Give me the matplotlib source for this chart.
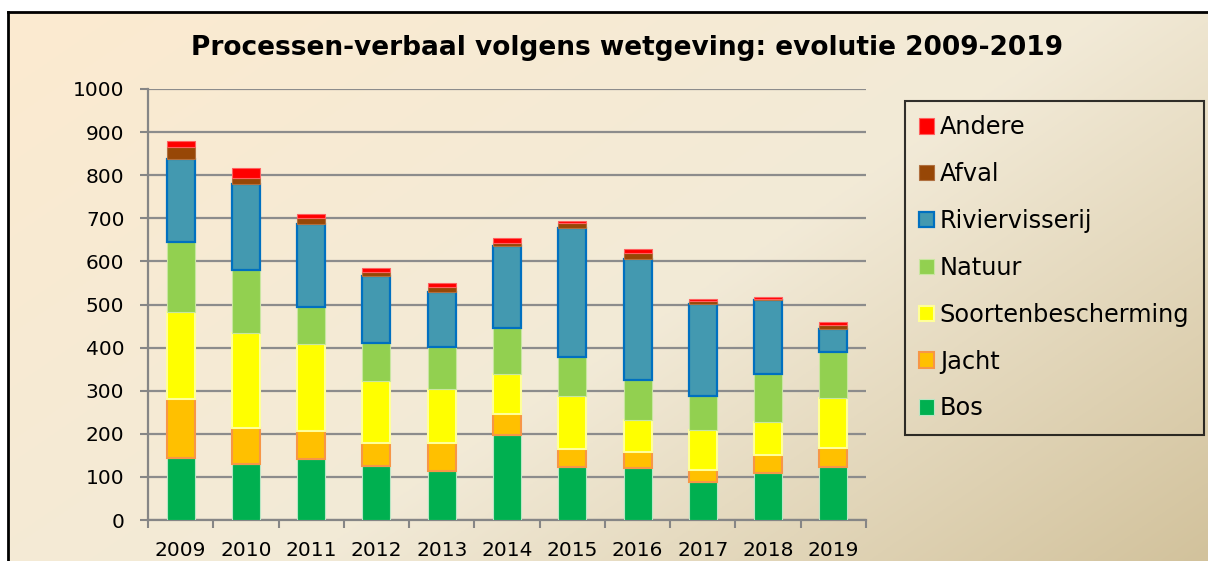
import matplotlib.pyplot as plt
import numpy as np
from matplotlib.colors import to_rgb

# data
years = ['2009', '2010', '2011', '2012', '2013', '2014', '2015', '2016', '2017', '2018', '2019']
bos = [144, 130, 141, 125, 114, 197, 124, 120, 88, 109, 124]
jacht = [137, 83, 66, 54, 65, 49, 41, 37, 27, 42, 44]
soorten = [202, 221, 201, 144, 124, 92, 123, 74, 94, 77, 116]
natuur = [162, 146, 86, 88, 99, 107, 91, 94, 79, 110, 105]
rivier = [192, 200, 193, 155, 127, 191, 298, 281, 214, 172, 54]
afval = [28, 14, 14, 9, 12, 7, 11, 13, 5, 2, 9]
andere = [14, 23, 9, 10, 9, 11, 6, 9, 6, 6, 8]

names = ['Bos', 'Jacht', 'Soortenbescherming', 'Natuur', 'Riviervisserij', 'Afval', 'Andere']
series = [bos, jacht, soorten, natuur, rivier, afval, andere]
colors = ['#00B050', '#FFC000', '#FFFF00', '#92D050', '#4399B0', '#974706', '#FF0000']
edges = ['#B8E6C4', '#F79646', '#FFFF99', '#C8E6A0', '#0070C0', '#B07040', '#FF6060']
edge_w = [0.8, 1.5, 1.5, 0.8, 1.6, 0.8, 0.8]

W, H = 1208, 561
fig = plt.figure(figsize=(W / 100, H / 100), dpi=100)
fig.patch.set_facecolor('white')

# gradient background of the chart area
bg = fig.add_axes([8 / W, 0, 1 - 8 / W, 1 - 12 / H], zorder=-5)
ny, nx = 200, 400
gx, gy = np.meshgrid(np.linspace(0, 1, nx), np.linspace(0, 1, ny))
t = (gx * 0.6 + gy * 0.4)
c0, c1, c2 = np.array(to_rgb('#FCEBD0')), np.array(to_rgb('#F2EAD7')), np.array(to_rgb('#D2C29C'))
t3 = t[..., None]
img = np.where(t3 < 0.55, c0 + (c1 - c0) * (t3 / 0.55), c1 + (c2 - c1) * ((t3 - 0.55) / 0.45))
bg.imshow(img, extent=[0, 1, 0, 1], aspect='auto', origin='upper')
bg.set_xlim(0, 1)
bg.set_ylim(0, 1)
bg.set_xticks([])
bg.set_yticks([])
for s in ['right', 'bottom']:
    bg.spines[s].set_visible(False)
for s in ['left', 'top']:
    bg.spines[s].set_linewidth(2)
    bg.spines[s].set_color('black')

ax = fig.add_axes([148 / W, (H - 520) / H, 718 / W, 431 / H])
ax.patch.set_alpha(0)
x = np.arange(len(years))
bottom = np.zeros(len(years))
handles = []
for vals, name, col, ec, lw in zip(series, names, colors, edges, edge_w):
    b = ax.bar(x, vals, 0.43, bottom=bottom, color=col, edgecolor=ec, linewidth=lw, label=name, zorder=3)
    handles.append(b)
    bottom += np.array(vals)

ax.set_xlim(-0.5, len(years) - 0.5)
ax.set_ylim(0, 1000)
ax.set_yticks(range(0, 1001, 100))
ax.set_xticks(x)
ax.set_xticklabels(years)
ax.set_xticks(np.arange(-0.5, len(years), 1), minor=True)
ax.tick_params(axis='x', which='major', length=0, pad=15, labelsize=14.5)
ax.tick_params(axis='x', which='minor', length=6, width=1.5, color='#868686')
ax.tick_params(axis='y', length=6, width=1.5, color='#868686', pad=11, labelsize=14.5)
ax.grid(axis='y', color='#8C8C8C', linewidth=1.6, zorder=1)
for s in ['top', 'right']:
    ax.spines[s].set_visible(False)
for s in ['left', 'bottom']:
    ax.spines[s].set_color('#868686')
    ax.spines[s].set_linewidth(1.6)

fig.text(627 / W, 1 - 48 / H, 'Processen-verbaal volgens wetgeving: evolutie 2009-2019',
         ha='center', va='center', fontsize=19, fontweight='bold')

leg = fig.legend(handles[::-1], names[::-1], loc='upper left',
                 bbox_to_anchor=(905 / W, 1 - 101 / H), fontsize=17.3,
                 handlelength=0.6, handleheight=0.6, handletextpad=0.25,
                 labelspacing=0.95, borderpad=0.6, borderaxespad=0, fancybox=False)
leg.get_frame().set_facecolor('none')
leg.get_frame().set_edgecolor('black')
leg.get_frame().set_linewidth(1.5)

fig.savefig('out.png', dpi=100)
